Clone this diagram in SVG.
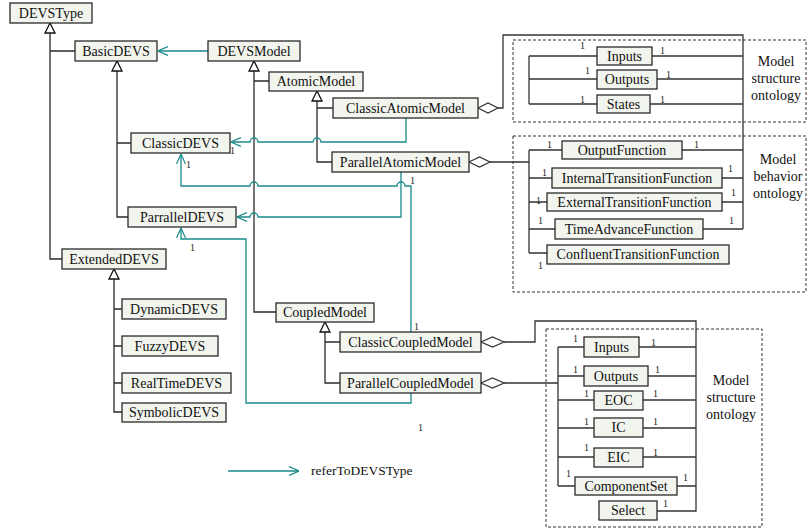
<svg xmlns="http://www.w3.org/2000/svg" width="808" height="529" viewBox="0 0 808 529">
<style>
.box rect{fill:#f2f4ee;stroke:#2a2a2a;stroke-width:1.3}
.box text{font-family:"Liberation Serif",serif;font-size:14px;fill:#111;text-anchor:middle}
.gen{fill:none;stroke:#2a2a2a;stroke-width:1.3}
.tri{fill:#fff;stroke:#111;stroke-width:1.3}
.ref{fill:none;stroke:#1b8a8c;stroke-width:1.3}
.agg{fill:none;stroke:#333;stroke-width:1.3}
.dia{fill:#fff;stroke:#333;stroke-width:1.2}
.dash{fill:none;stroke:#333;stroke-width:1;stroke-dasharray:3,2}
.m{font-family:"Liberation Serif",serif;font-size:10px;fill:#222}
.lab{font-family:"Liberation Serif",serif;font-size:14px;fill:#111;text-anchor:middle}
</style>
<defs>
<marker id="arr" viewBox="0 0 10 10" refX="10" refY="5" markerWidth="10" markerHeight="10" markerUnits="userSpaceOnUse" orient="auto">
<path d="M0,0.5 L10,5 L0,9.5" fill="none" stroke="#1b8a8c" stroke-width="1.2"/>
</marker>
</defs>

<g id="ontology-frames">
<rect class="dash" x="513" y="40" width="293" height="82"/>
<rect class="dash" x="513" y="136" width="293" height="156"/>
<rect class="dash" x="546" y="329" width="216" height="198"/>
<text class="lab" x="776" y="66">Model</text>
<text class="lab" x="776" y="83">structure</text>
<text class="lab" x="776" y="100">ontology</text>
<text class="lab" x="778" y="164">Model</text>
<text class="lab" x="778" y="181">behavior</text>
<text class="lab" x="778" y="198">ontology</text>
<text class="lab" x="731" y="385">Model</text>
<text class="lab" x="731" y="402">structure</text>
<text class="lab" x="731" y="419">ontology</text>
</g>

<g id="connectors">
<!-- generalization -->
<path class="gen" d="M50,33 V259 H62 M50,51 H75"/>
<path class="gen" d="M117,71 V217 H128 M117,143 H131"/>
<path class="gen" d="M254,71 V312 H276 M254,81 H269"/>
<path class="gen" d="M317,101 V162 H332 M317,108 H333"/>
<path class="gen" d="M114,279 V412 H122 M114,309 H122 M114,346 H122 M114,383 H122"/>
<path class="gen" d="M325,332 V383 H340 M325,342 H340"/>
<path class="tri" d="M50,23 L45,33 L55,33 Z"/>
<path class="tri" d="M117,61 L112,71 L122,71 Z"/>
<path class="tri" d="M254,61 L249,71 L259,71 Z"/>
<path class="tri" d="M317,91 L312,101 L322,101 Z"/>
<path class="tri" d="M114,269 L109,279 L119,279 Z"/>
<path class="tri" d="M325,322 L320,332 L330,332 Z"/>
<!-- referToDEVSType -->
<path class="ref" marker-end="url(#arr)" d="M208,51 H158"/>
<path class="ref" marker-end="url(#arr)" d="M406,118 V142 H321 A4,4 0 0 0 313,142 H258 A4,4 0 0 0 250,142 H231"/>
<path class="ref" marker-end="url(#arr)" d="M411,332 V186 H405 A4,4 0 0 0 397,186 H258 A4,4 0 0 0 250,186 H181 V154"/>
<path class="ref" marker-end="url(#arr)" d="M401,172 V217 H258 A4,4 0 0 0 250,217 H237"/>
<path class="ref" marker-end="url(#arr)" d="M411,393 V403 H246 V239 H181 V228"/>
<!-- aggregation to ontologies -->
<path class="agg" d="M498,108 H503 V35 H743 V229"/>
<path class="agg" d="M529,56 V104 M529,56 H597 M652,56 H743 M529,79 H597 M657,79 H743 M529,104 H597 M650,104 H743"/>
<path class="agg" d="M490,162 H529 M529,150 V253 M529,150 H562 M682,150 H743 M529,178 H552 M722,178 H743 M529,202 H547 M722,202 H743 M529,229 H555 M703,229 H743 M529,253 H547"/>
<path class="agg" d="M504,342 H535 V321 H696 V511 H657 M639,347 H696 M648,376 H696 M643,400 H696 M643,428 H696 M643,457 H696 M677,486 H696"/>
<path class="agg" d="M504,383 H558 M558,347 V486 M558,347 H584 M558,376 H584 M558,400 H594 M558,428 H594 M558,457 H594 M558,486 H575"/>
<path class="dia" d="M478,108 L488,103 L498,108 L488,113 Z"/>
<path class="dia" d="M469,162 L479.5,157 L490,162 L479.5,167 Z"/>
<path class="dia" d="M481,342 L492.5,337 L504,342 L492.5,347 Z"/>
<path class="dia" d="M481,383 L492.5,378 L504,383 L492.5,388 Z"/>
<!-- multiplicities -->
<text class="m" x="230" y="154">1</text>
<text class="m" x="186" y="168">1</text>
<text class="m" x="410" y="184">1</text>
<text class="m" x="414" y="330">1</text>
<text class="m" x="190" y="251">1</text>
<text class="m" x="418" y="431">1</text>
<text class="m" x="580" y="49">1</text>
<text class="m" x="660" y="54">1</text>
<text class="m" x="585" y="74">1</text>
<text class="m" x="666" y="78">1</text>
<text class="m" x="580" y="103">1</text>
<text class="m" x="660" y="103">1</text>
<text class="m" x="547" y="148">1</text>
<text class="m" x="694" y="148">1</text>
<text class="m" x="542" y="176">1</text>
<text class="m" x="728" y="172">1</text>
<text class="m" x="536" y="204">1</text>
<text class="m" x="731" y="196">1</text>
<text class="m" x="538" y="224">1</text>
<text class="m" x="729" y="224">1</text>
<text class="m" x="538" y="269">1</text>
<text class="m" x="573" y="342">1</text>
<text class="m" x="651" y="346">1</text>
<text class="m" x="573" y="373">1</text>
<text class="m" x="655" y="373">1</text>
<text class="m" x="584" y="397">1</text>
<text class="m" x="653" y="397">1</text>
<text class="m" x="584" y="425">1</text>
<text class="m" x="653" y="425">1</text>
<text class="m" x="584" y="451">1</text>
<text class="m" x="653" y="456">1</text>
<text class="m" x="566" y="477">1</text>
<text class="m" x="683" y="481">1</text>
<text class="m" x="663" y="507">1</text>
</g>

<g id="DEVSType" class="box"><rect x="10" y="3" width="82" height="20"/><text x="51" y="18">DEVSType</text></g>
<g id="BasicDEVS" class="box"><rect x="75" y="41" width="82" height="20"/><text x="116" y="56">BasicDEVS</text></g>
<g id="DEVSModel" class="box"><rect x="208" y="41" width="92" height="20"/><text x="254" y="56">DEVSModel</text></g>
<g id="ClassicDEVS" class="box"><rect x="131" y="133" width="99" height="20"/><text x="180.5" y="148">ClassicDEVS</text></g>
<g id="AtomicModel" class="box"><rect x="269" y="72" width="94" height="19"/><text x="316" y="86">AtomicModel</text></g>
<g id="ClassicAtomicModel" class="box"><rect x="333" y="98" width="145" height="20"/><text x="405.5" y="113">ClassicAtomicModel</text></g>
<g id="ParallelAtomicModel" class="box"><rect x="332" y="152" width="137" height="20"/><text x="400.5" y="167">ParallelAtomicModel</text></g>
<g id="ParrallelDEVS" class="box"><rect x="128" y="207" width="108" height="20"/><text x="182" y="222">ParrallelDEVS</text></g>
<g id="ExtendedDEVS" class="box"><rect x="62" y="249" width="104" height="20"/><text x="114" y="264">ExtendedDEVS</text></g>
<g id="DynamicDEVS" class="box"><rect x="122" y="299" width="104" height="20"/><text x="174" y="314">DynamicDEVS</text></g>
<g id="FuzzyDEVS" class="box"><rect x="122" y="336" width="96" height="20"/><text x="170" y="351">FuzzyDEVS</text></g>
<g id="RealTimeDEVS" class="box"><rect x="122" y="373" width="109" height="20"/><text x="176.5" y="388">RealTimeDEVS</text></g>
<g id="SymbolicDEVS" class="box"><rect x="122" y="403" width="104" height="19"/><text x="174" y="417">SymbolicDEVS</text></g>
<g id="CoupledModel" class="box"><rect x="276" y="303" width="98" height="19"/><text x="325" y="317">CoupledModel</text></g>
<g id="ClassicCoupledModel" class="box"><rect x="340" y="332" width="141" height="20"/><text x="410.5" y="347">ClassicCoupledModel</text></g>
<g id="ParallelCoupledModel" class="box"><rect x="340" y="373" width="141" height="20"/><text x="410.5" y="388">ParallelCoupledModel</text></g>

<g id="AM-Inputs" class="box"><rect x="597" y="47" width="55" height="18"/><text x="624.5" y="61">Inputs</text></g>
<g id="AM-Outputs" class="box"><rect x="597" y="70" width="60" height="19"/><text x="627" y="84">Outputs</text></g>
<g id="AM-States" class="box"><rect x="597" y="95" width="53" height="18"/><text x="623.5" y="109">States</text></g>
<g id="OutputFunction" class="box"><rect x="562" y="141" width="120" height="18"/><text x="622" y="155">OutputFunction</text></g>
<g id="InternalTransitionFunction" class="box"><rect x="552" y="168" width="170" height="20"/><text x="637" y="183">InternalTransitionFunction</text></g>
<g id="ExternalTransitionFunction" class="box"><rect x="547" y="193" width="175" height="18"/><text x="634.5" y="207">ExternalTransitionFunction</text></g>
<g id="TimeAdvanceFunction" class="box"><rect x="555" y="219" width="148" height="20"/><text x="629" y="234">TimeAdvanceFunction</text></g>
<g id="ConfluentTransitionFunction" class="box"><rect x="547" y="245" width="182" height="19"/><text x="638" y="259">ConfluentTransitionFunction</text></g>

<g id="CM-Inputs" class="box"><rect x="584" y="337" width="55" height="20"/><text x="611.5" y="352">Inputs</text></g>
<g id="CM-Outputs" class="box"><rect x="584" y="366" width="64" height="20"/><text x="616" y="381">Outputs</text></g>
<g id="EOC" class="box"><rect x="594" y="391" width="49" height="19"/><text x="618.5" y="405">EOC</text></g>
<g id="IC" class="box"><rect x="594" y="418" width="49" height="19"/><text x="618.5" y="432">IC</text></g>
<g id="EIC" class="box"><rect x="594" y="448" width="49" height="19"/><text x="618.5" y="462">EIC</text></g>
<g id="ComponentSet" class="box"><rect x="575" y="477" width="102" height="18"/><text x="626" y="491">ComponentSet</text></g>
<g id="Select" class="box"><rect x="599" y="501" width="58" height="19"/><text x="628" y="515">Select</text></g>

<g id="legend">
<path class="ref" marker-end="url(#arr)" d="M228,471 H299"/>
<text x="311" y="475" font-family="Liberation Serif, serif" font-size="13.5" fill="#111">referToDEVSType</text>
</g>
</svg>
